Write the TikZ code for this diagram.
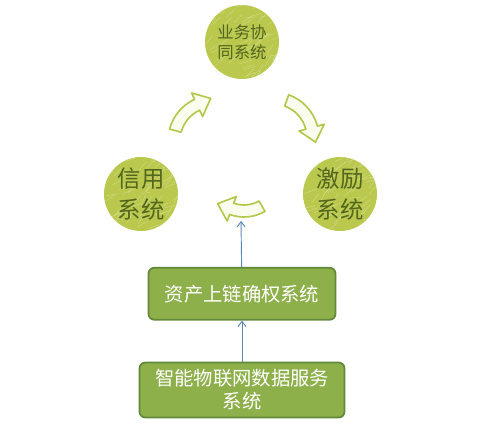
\documentclass[tikz,border=0pt]{standalone}
\usepackage{fontspec}
\newfontfamily\cjk{Noto Sans CJK SC}
\usetikzlibrary{
  calc,
  positioning,
  arrows.meta
}
\definecolor{ballgreen}{HTML}{BAC84E}
\definecolor{ballhi}{HTML}{D6DE8C}
\definecolor{balltext}{HTML}{53661E}
\definecolor{boxgreen}{HTML}{8DB04A}
\definecolor{boxedge}{HTML}{62893A}
\definecolor{arrowgreen}{HTML}{B3C84A}
\definecolor{arrowfill}{HTML}{FAFCEE}
\definecolor{feedblue}{HTML}{5B87B5}

\tikzset{
  sysball/.style = {circle, fill=ballgreen, minimum size=2.22cm, inner sep=0pt,
    text=balltext, align=center,
    path picture = {\foreach \k in {1,...,70}{
      \draw[ballhi, line width=0.4pt, opacity=0.8]
        ($(path picture bounding box.center)+(rand*1.1cm,rand*1.1cm)$) -- ++({35+rand*30}:0.35cm);}}},
  sysbox/.style = {rectangle, rounded corners=5pt, fill=boxgreen, draw=boxedge,
    line width=1.5pt, text=white, align=center, inner sep=0pt},
  sketcharrow/.style = {draw=arrowgreen, fill=arrowfill, line width=1.4pt, line join=round},
  feed/.style = {-{Straight Barb[length=4.5pt, width=7pt]}, draw=feedblue, line width=0.8pt},
  pics/bendarrow/.style n args = {3}{code = {
    \draw[sketcharrow] (#1:{#3+6}) arc[start angle=#1, end angle=#2, radius=#3+6]
      -- (#2:{#3+13}) -- ([shift={(#2:#3)}]{#2-90}:15) -- (#2:{#3-13})
      -- (#2:{#3-6}) arc[start angle=#2, end angle=#1, radius=#3-6] -- cycle;
  }}
}

\begin{document}
\begin{tikzpicture}[x=0.03cm, y=0.03cm]
    \useasboundingbox (0,0) rectangle (482,440);
    \pgfmathsetseed{7}

    \node[sysball, font={\cjk\fontsize{14}{17}\selectfont}] (coop) at (242,398) {业务协\\同系统};
    \node[sysball, font={\cjk\fontsize{20}{27}\selectfont}] (credit) at (141,246) {信用\\系统};
    \node[sysball, font={\cjk\fontsize{20}{27}\selectfont}] (reward) at (340,246) {激励\\系统};

    \node[sysbox, minimum width=6.15cm, minimum height=1.65cm,
      font={\cjk\fontsize{16.5}{19.5}\selectfont}] (iot) at (242,50) {智能物联网数据服务\\系统};
    \node[sysbox, minimum width=5.61cm, minimum height=1.56cm,
      font={\cjk\fontsize{16.5}{19.5}\selectfont}, above = 1.23cm of iot] (assets) {资产上链确权系统};
    \coordinate (hub) at (241,219);

    \pic at (214,299) {bendarrow={165}{115}{40}};
    \pic at (273,302) {bendarrow={70}{15}{40}};
    \pic at (244,265) {bendarrow={300}{250}{36}};

    \draw[feed] (iot) -- (assets);
    \draw[feed] (assets) -- (hub);
  \end{tikzpicture}
\end{document}
